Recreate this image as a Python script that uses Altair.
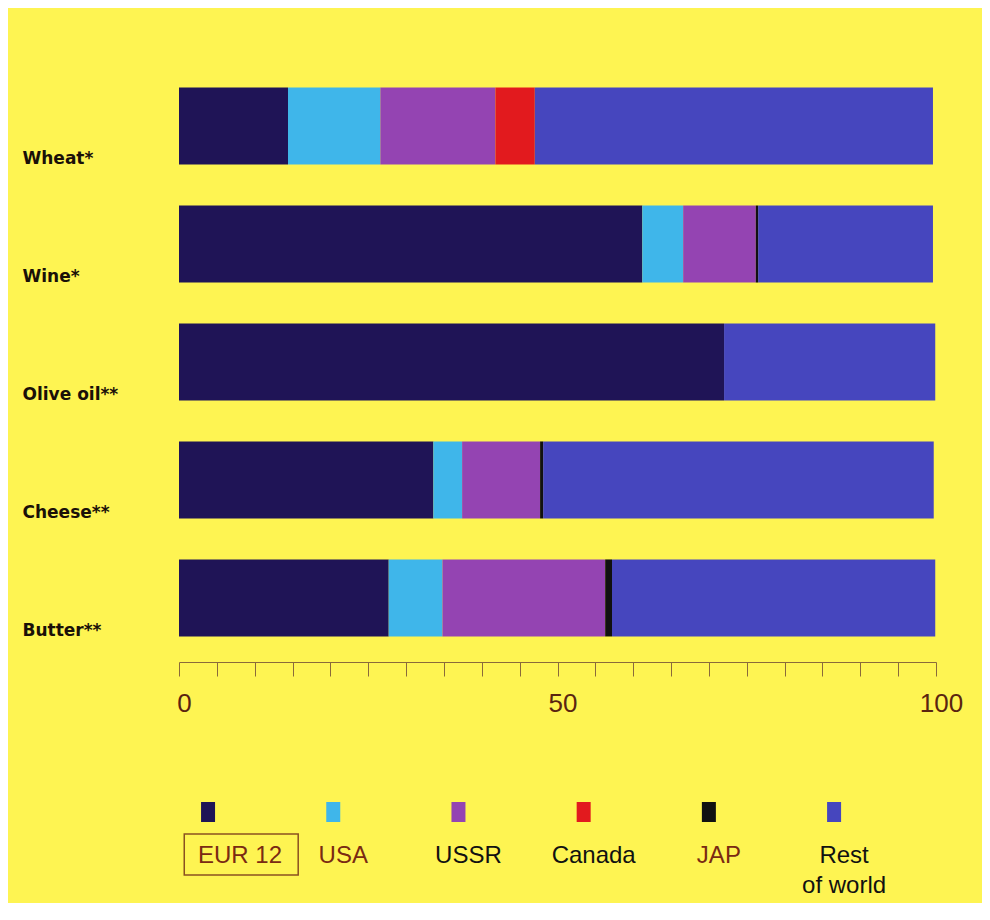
import altair as alt
import pandas as pd

products = ["Wheat*", "Wine*", "Olive oil**", "Cheese**", "Butter**"]
countries = ["EUR 12", "USA", "USSR", "Canada", "JAP", "Rest of world"]
legend_labels = ["EUR 12", "USA", "USSR", "Canada", "JAP", "Rest\nof world"]
colors = ["#1f1456", "#3fb6ea", "#9444b2", "#e21a1e", "#111111", "#4646be"]

eur12 = [14.4, 61.2, 72.0, 33.6, 27.7]
usa = [12.2, 5.4, 0.0, 3.8, 7.1]
ussr = [15.2, 9.6, 0.0, 10.3, 21.5]
canada = [5.2, 0.0, 0.0, 0.0, 0.0]
jap = [0.0, 0.3, 0.0, 0.4, 0.9]
rest = [52.6, 23.1, 27.9, 51.6, 42.7]

tick_values = list(range(0, 101, 5))

series = [eur12, usa, ussr, canada, jap, rest]
rows = []
for i, p in enumerate(products):
    for j, (c, vals) in enumerate(zip(countries, series)):
        rows.append({"product": p, "country": c, "order": j, "share": vals[i]})
df = pd.DataFrame(rows)

leg = pd.DataFrame({"country": countries, "label": legend_labels, "i": list(range(len(countries)))})

color_scale = alt.Scale(domain=countries, range=colors)

bars = alt.Chart(df).mark_bar().encode(
    x=alt.X("share:Q", stack="zero",
            scale=alt.Scale(domain=[0, 100], nice=False),
            axis=alt.Axis(values=tick_values, title=None, grid=False,
                          labelExpr="datum.value % 50 == 0 ? datum.label : ''",
                          labelOverlap=False, labelFlush=False,
                          tickSize=14, offset=5, domainColor="#8a6a3a", tickColor="#8a6a3a",
                          labelFont="Liberation Sans", labelFontSize=26, labelColor="#5a2410",
                          labelPadding=14, labelOffset=5)),
    y=alt.Y("product:N", sort=products,
            scale=alt.Scale(paddingInner=0.347, paddingOuter=0.174),
            axis=alt.Axis(title=None, ticks=False, tickSize=0, domain=False,
                          labelAlign="left", labelPadding=157, labelBaseline="middle",
                          labelFont="DejaVu Sans", labelFontWeight="bold",
                          labelFontSize=17, labelColor="#1a1008", labelOffset=33)),
    color=alt.Color("country:N", scale=color_scale, legend=None),
    order=alt.Order("order:Q"),
).properties(width=757, height=590)

leg_scale = alt.Scale(domain=[-0.232, 5.814], nice=False, zero=False)
legx = alt.X("i:Q", scale=leg_scale, axis=None)

squares = alt.Chart(leg).mark_point(
    shape="M-0.7,-1L0.7,-1L0.7,1L-0.7,1Z", filled=True, size=400, opacity=1, strokeWidth=0
).encode(
    x=legx,
    y=alt.value(745),
    color=alt.Color("country:N", scale=color_scale, legend=None),
)

text_color = alt.condition("indexof(['EUR 12','USA','JAP'], datum.country) >= 0",
                           alt.value("#7a2a12"), alt.value("#111111"))

texts_first = alt.Chart(leg).transform_filter("datum.i == 0").mark_text(
    align="center", baseline="alphabetic", fontSize=24, lineBreak="\n", lineHeight=30,
    dx=32, font="Liberation Sans"
).encode(x=legx, y=alt.value(796), text="label:N", color=text_color)

texts_rest = alt.Chart(leg).transform_filter("datum.i > 0").mark_text(
    align="center", baseline="alphabetic", fontSize=24, lineBreak="\n", lineHeight=30,
    dx=10, font="Liberation Sans"
).encode(x=legx, y=alt.value(796), text="label:N", color=text_color)

box = alt.Chart(leg).transform_filter("datum.i == 0").transform_calculate(
    x0="datum.i - 0.19", x1="datum.i + 0.72"
).mark_rect(fillOpacity=0, stroke="#8a5020", strokeWidth=1.5).encode(
    x=alt.X("x0:Q", scale=leg_scale, axis=None),
    x2="x1:Q",
    y=alt.value(767),
    y2=alt.value(808),
)

chart = alt.layer(bars, squares, texts_first, texts_rest, box).resolve_scale(x="independent").properties(
    background="#fef452",
    padding={"left": 14, "top": 59, "right": 19, "bottom": 5},
).configure_view(stroke=None)

chart.save("out.html", embed_options={"renderer": "svg", "actions": False})
